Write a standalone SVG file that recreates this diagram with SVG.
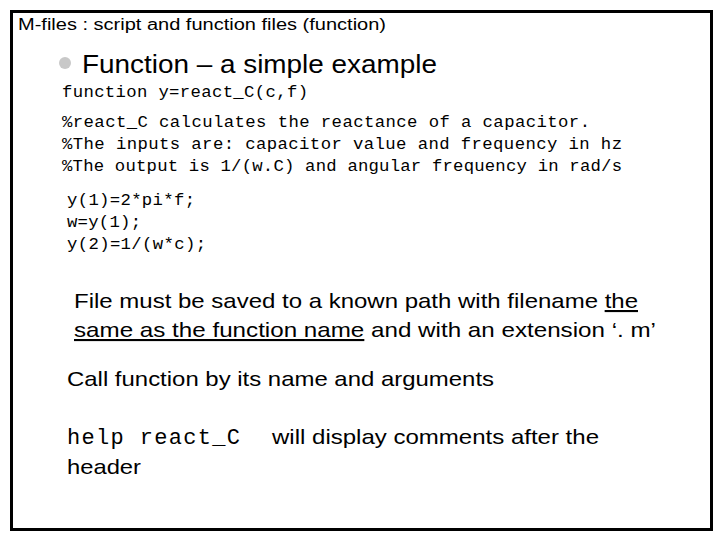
<svg xmlns="http://www.w3.org/2000/svg" width="720" height="540" viewBox="0 0 720 540">
<style>
.s{font-family:"Liberation Sans",Arial,sans-serif;fill:#000}
.m{font-family:"Liberation Mono","Courier New",monospace;fill:#000;font-size:17.3px}
</style>
<rect width="720" height="540" fill="#fff"/>
<rect x="11.5" y="11.5" width="700" height="518" fill="none" stroke="#000" stroke-width="3"/>
<text class="s" x="18" y="30" font-size="16" textLength="368" lengthAdjust="spacingAndGlyphs">M-files : script and function files (function)</text>
<circle cx="65" cy="63" r="6" fill="#c8c8c8"/>
<text class="s" x="82" y="73" font-size="26" textLength="355" lengthAdjust="spacingAndGlyphs">Function – a simple example</text>
<text class="m" x="62" y="97" textLength="246">function y=react_C(c,f)</text>
<text class="m" x="62" y="127" textLength="528">%react_C calculates the reactance of a capacitor.</text>
<text class="m" x="62" y="149" textLength="560">%The inputs are: capacitor value and frequency in hz</text>
<text class="m" x="62" y="171" textLength="560">%The output is 1/(w.C) and angular frequency in rad/s</text>
<text class="m" x="67" y="205" textLength="128">y(1)=2*pi*f;</text>
<text class="m" x="67" y="227" textLength="74">w=y(1);</text>
<text class="m" x="67" y="249" textLength="139">y(2)=1/(w*c);</text>
<text class="s" x="74" y="308" font-size="21" textLength="564" lengthAdjust="spacingAndGlyphs">File must be saved to a known path with filename <tspan text-decoration="underline">the</tspan></text>
<text class="s" x="74" y="337" font-size="21" textLength="582" lengthAdjust="spacingAndGlyphs"><tspan text-decoration="underline">same as the function name</tspan> and with an extension ‘. m’</text>
<text class="s" x="67" y="386" font-size="21" textLength="427" lengthAdjust="spacingAndGlyphs">Call function by its name and arguments</text>
<text class="m" x="67" y="444" style="font-size:22px" textLength="173">help react_C</text>
<text class="s" x="272" y="444" font-size="21" textLength="327" lengthAdjust="spacingAndGlyphs">will display comments after the</text>
<text class="s" x="67" y="474" font-size="21" textLength="74" lengthAdjust="spacingAndGlyphs">header</text>
</svg>
